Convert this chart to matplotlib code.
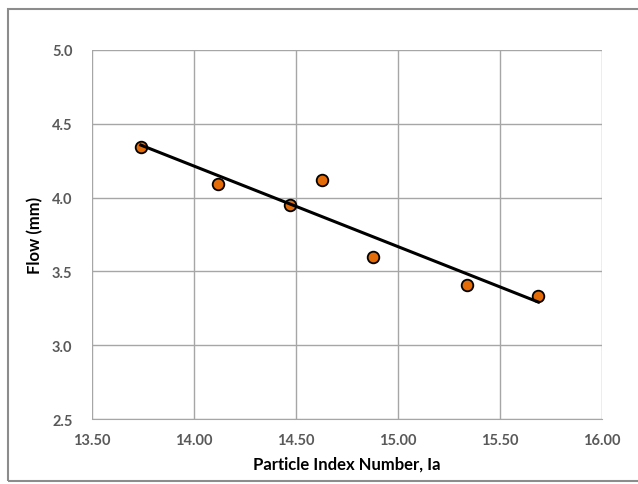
import matplotlib
matplotlib.use("Agg")
import matplotlib.pyplot as plt
from matplotlib.patches import Rectangle
import numpy as np

particle_index = [13.74, 14.12, 14.47, 14.63, 14.88, 15.34, 15.69]
flow_mm = [4.34, 4.09, 3.95, 4.12, 3.60, 3.41, 3.33]
x_ticks = [13.5, 14.0, 14.5, 15.0, 15.5, 16.0]
y_ticks = [2.5, 3.0, 3.5, 4.0, 4.5, 5.0]

plt.rcParams['font.family'] = ['Lato', 'DejaVu Sans']

fig = plt.figure(figsize=(6.38, 4.85), dpi=100)
fig.patches.append(Rectangle((0.0125, 0.006), 1.0, 0.973, transform=fig.transFigure,
                             fill=False, edgecolor='#8c8c8c', linewidth=1.5))
ax = fig.add_axes([0.144, 0.134, 0.799, 0.761])

ax.scatter(particle_index, flow_mm, s=70, color='#e36c09', edgecolor='black', linewidth=1.3, zorder=3)
coef = np.polyfit(particle_index, flow_mm, 1)
xs = np.array([min(particle_index), max(particle_index)])
ax.plot(xs, np.polyval(coef, xs), color='black', linewidth=2.2, zorder=4)

ax.set_xlim(13.5, 16.0)
ax.set_ylim(2.5, 5.0)
ax.set_xticks(x_ticks)
ax.set_yticks(y_ticks)
ax.set_xticklabels([f"{v:.2f}" for v in x_ticks])
ax.set_yticklabels([f"{v:.1f}" for v in y_ticks])
ax.grid(True, color='#a6a6a6', linewidth=1.0)
ax.set_axisbelow(True)
for s in ['top', 'right', 'left']:
    ax.spines[s].set_visible(False)
ax.spines['bottom'].set_color('#a6a6a6')
ax.tick_params(axis='x', length=0, labelsize=10.5, labelcolor='#595959', pad=10)
ax.tick_params(axis='y', length=0, labelsize=10.5, labelcolor='#595959', pad=14)
for lbl in ax.get_xticklabels() + ax.get_yticklabels():
    lbl.set_fontweight('bold')
ax.set_xlabel('Particle Index Number, Ia', fontsize=12, fontweight='bold', labelpad=6)
ax.set_ylabel('Flow (mm)', fontsize=12, fontweight='bold', labelpad=6)

fig.savefig('out.png', dpi=100)
